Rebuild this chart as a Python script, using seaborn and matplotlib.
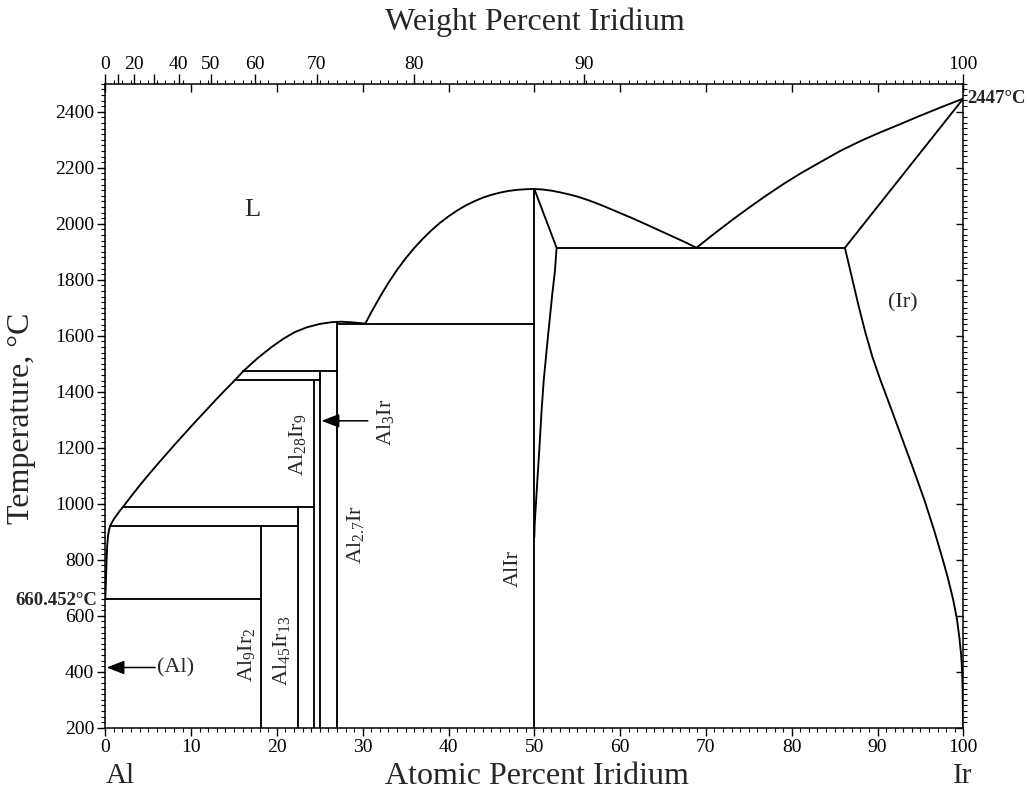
import numpy as np
import pandas as pd
import matplotlib
matplotlib.use("Agg")
import matplotlib.pyplot as plt
import seaborn as sns
from matplotlib.ticker import MultipleLocator, FixedLocator, NullFormatter

sns.set_theme(style="white")
plt.rcParams["font.family"] = ["Liberation Serif", "DejaVu Serif"]
plt.rcParams["mathtext.fontset"] = "custom"
plt.rcParams["mathtext.rm"] = "Liberation Serif"
plt.rcParams["mathtext.it"] = "Liberation Serif:italic"
plt.rcParams["mathtext.bf"] = "Liberation Serif:bold"

M_AL, M_IR = 26.9815, 192.217

# ---------------- data (atomic % Ir, temperature in °C) ----------------
liq_al_x = [0, 0.05, 0.1, 0.15, 0.22, 0.32, 0.45, 0.55, 0.75, 1.0, 1.3, 1.7,
            2.1, 3.0, 4.0, 5.0, 6.0, 7.0, 8.0, 9.0, 10.0, 11.0, 12.0, 13.0,
            14.0, 15.1, 16.1, 17.0, 17.8, 19.4, 20.8, 22.1, 23.5, 25.0, 26.3,
            27.5, 28.7, 30.3]
liq_al_t = [660, 700, 750, 800, 850, 885, 908, 919, 932, 945, 958, 975,
            990, 1026, 1065, 1102, 1138, 1173, 1208, 1242, 1276, 1309, 1342,
            1375, 1407, 1441, 1474, 1499, 1521, 1560, 1590, 1613, 1630, 1642,
            1648, 1650, 1648, 1643]

liq_alir_l_x = [30.3, 31.0, 32.0, 33.0, 34.0, 35.0, 36.0, 37.0, 38.0, 39.0,
                40.0, 41.0, 42.0, 43.0, 44.0, 45.0, 46.0, 47.0, 48.0, 49.0, 50.0]
liq_alir_l_t = [1643, 1684, 1738, 1789, 1835, 1876, 1913, 1946, 1976, 2003,
                2026, 2047, 2065, 2080, 2093, 2103, 2111, 2117, 2121, 2123, 2124]

liq_alir_r_x = [50.0, 51.0, 52.0, 53.0, 54.0, 55.0, 56.0, 57.0, 58.0, 59.0,
                60.0, 61.4, 63.0, 64.5, 66.0, 67.5, 68.9]
liq_alir_r_t = [2124, 2122, 2118, 2112, 2105, 2097, 2087, 2076, 2064, 2051,
                2038, 2020, 1998, 1977, 1956, 1935, 1914]

liq_ir_x = [68.9, 71.0, 73.0, 75.1, 77.0, 79.0, 81.0, 83.0, 85.6, 88.0, 90.0,
            92.6, 95.0, 97.5, 100.0]
liq_ir_t = [1914, 1965, 2012, 2059, 2100, 2141, 2179, 2214, 2259, 2295, 2322,
            2355, 2386, 2417, 2447]

sol_ir_x = [86.2, 100.0]
sol_ir_t = [1914, 2447]

alir_r_x = [50.0, 52.6, 52.4, 52.1, 51.6, 51.1, 50.85, 50.6, 50.35, 50.15,
            50.05, 50.0]
alir_r_t = [2124, 1914, 1830, 1750, 1600, 1441, 1333, 1202, 1080, 980, 930, 880]

solv_ir_x = [86.2, 87.0, 87.8, 88.6, 89.4, 90.3, 91.7, 93.2, 94.4, 95.5, 96.6,
             97.5, 98.2, 98.8, 99.25, 99.55, 99.75, 99.85, 99.93, 99.97]
solv_ir_t = [1914, 1810, 1706, 1610, 1525, 1445, 1330, 1205, 1105, 1010, 905,
             812, 735, 660, 590, 520, 460, 410, 330, 200]

# line compounds: composition and upper end of the vertical line
comp_x = [18.18, 22.41, 24.32, 25.0, 27.0, 50.0]
comp_top = [919, 990, 1441, 1474, 1648, 2124]

# invariant (horizontal) lines
iso_t = [660.452, 919, 990, 1441, 1474, 1643, 1914]
iso_x0 = [0.0, 0.55, 2.1, 15.1, 16.1, 27.0, 52.6]
iso_x1 = [18.18, 22.41, 24.32, 25.0, 27.0, 50.0, 86.2]

at_ticks = list(range(0, 101, 10))
t_ticks = list(range(200, 2401, 200))
wt_ticks = [0, 10, 20, 30, 40, 50, 60, 70, 80, 90, 100]
wt_labels = ["0", "", "20", "", "40", "50", "60", "70", "80", "90", "100"]

# ---------------- build segment table ----------------
rows = []
def add(name, xs, ts):
    for i, (x, t) in enumerate(zip(xs, ts)):
        rows.append({"seg": name, "order": i, "x": x, "T": t})

add("liq_al", liq_al_x, liq_al_t)
add("liq_alir_l", liq_alir_l_x, liq_alir_l_t)
add("liq_alir_r", liq_alir_r_x, liq_alir_r_t)
add("liq_ir", liq_ir_x, liq_ir_t)
add("sol_ir", sol_ir_x, sol_ir_t)
add("alir_r", alir_r_x, alir_r_t)
add("solv_ir", solv_ir_x, solv_ir_t)
for i, (cx, ct) in enumerate(zip(comp_x, comp_top)):
    add(f"comp{i}", [cx, cx], [200, ct])
for i, (t, a, b) in enumerate(zip(iso_t, iso_x0, iso_x1)):
    add(f"iso{i}", [a, b], [t, t])
df = pd.DataFrame(rows)

def wt2at(w):
    w = np.asarray(w, float)
    return 100 * (w / M_IR) / (w / M_IR + (100 - w) / M_AL)

# ---------------- figure ----------------
W, H = 1029, 796
fig = plt.figure(figsize=(W / 100, H / 100), dpi=100)
x0, x1, y0, y1 = 105.3, 963.3, 727.7, 83.7
ax = fig.add_axes([x0 / W, 1 - y0 / H, (x1 - x0) / W, (y0 - y1) / H])

sns.lineplot(data=df, x="x", y="T", units="seg", estimator=None, sort=False,
             color="black", lw=1.35, ax=ax, legend=False)

ax.set_xlim(0, 100)
ax.set_ylim(200, 2500)
ax.set_xlabel("")
ax.set_ylabel("")
for s in ax.spines.values():
    s.set_color("black")
    s.set_linewidth(1.1)

ax.xaxis.set_major_locator(FixedLocator(at_ticks))
ax.xaxis.set_minor_locator(MultipleLocator(1))
ax.yaxis.set_major_locator(FixedLocator(t_ticks))
ax.yaxis.set_minor_locator(MultipleLocator(20))
ax.tick_params(axis="both", which="both", direction="out", color="black",
               labelcolor="black", bottom=True, left=True, top=False, right=False)
ax.tick_params(axis="both", which="major", length=6, width=1.0, labelsize=14, pad=2)
ax.tick_params(axis="both", which="minor", length=3, width=0.8)

# top: weight percent scale
axt = ax.twiny()
axt.set_xlim(0, 100)
axt.xaxis.set_major_locator(FixedLocator(wt2at(wt_ticks)))
axt.set_xticklabels(wt_labels)
axt.xaxis.set_minor_locator(FixedLocator([]))
axt.tick_params(axis="x", which="major", direction="out", length=7, width=1.0,
                color="black", labelcolor="black", labelsize=14, pad=1, top=True)
for s in axt.spines.values():
    s.set_visible(False)

# top: atomic percent mirror ticks
axm = ax.twiny()
axm.set_xlim(0, 100)
axm.xaxis.set_major_locator(MultipleLocator(10))
axm.xaxis.set_minor_locator(MultipleLocator(1))
axm.xaxis.set_major_formatter(NullFormatter())
axm.tick_params(axis="x", which="major", direction="in", length=6, width=1.0,
                color="black", top=True, labeltop=False)
axm.tick_params(axis="x", which="minor", direction="out", length=3, width=0.8,
                color="black", top=True)
for s in axm.spines.values():
    s.set_visible(False)

# right: temperature mirror ticks
axr = ax.twinx()
axr.set_ylim(200, 2500)
axr.yaxis.set_major_locator(FixedLocator(t_ticks))
axr.yaxis.set_minor_locator(MultipleLocator(20))
axr.yaxis.set_major_formatter(NullFormatter())
axr.tick_params(axis="y", which="major", direction="in", length=5, width=1.0,
                color="black", right=True, labelright=False)
axr.tick_params(axis="y", which="minor", direction="out", length=3, width=0.8,
                color="black", right=True)
for s in axr.spines.values():
    s.set_visible(False)

# ---------------- labels inside the diagram ----------------
ax.text(17.1, 2048, "L", fontsize=19, ha="center", va="center")
ax.text(93.0, 1716, "(Ir)", fontsize=16, ha="center", va="center")
ax.text(47.6, 767, "AlIr", fontsize=16, rotation=90, ha="center", va="center")
ax.text(29.2, 890, r"Al$_{2.7}$Ir", fontsize=16, rotation=90, ha="center", va="center")
ax.text(32.6, 1290, r"Al$_{3}$Ir", fontsize=16, rotation=90, ha="center", va="center")
ax.text(22.4, 1210, r"Al$_{28}$Ir$_{9}$", fontsize=16, rotation=90, ha="center", va="center")
ax.text(16.5, 459, r"Al$_{9}$Ir$_{2}$", fontsize=16, rotation=90, ha="center", va="center")
ax.text(20.5, 473, r"Al$_{45}$Ir$_{13}$", fontsize=16, rotation=90, ha="center", va="center")
ax.text(6.0, 415, "(Al)", fontsize=16, ha="left", va="center")

arrow = dict(arrowstyle="-|>,head_length=0.9,head_width=0.35", color="black",
             lw=1.1, shrinkA=0, shrinkB=0)
ax.annotate("", xy=(0.15, 415), xytext=(5.8, 415), arrowprops=arrow)
ax.annotate("", xy=(25.2, 1296), xytext=(30.6, 1296), arrowprops=arrow)

ax.text(-0.9, 655, "660.452°C", fontsize=13.5, fontweight="bold", ha="right",
        va="center", clip_on=False)
ax.text(100.5, 2447, "2447°C", fontsize=13.5, fontweight="bold", ha="left",
        va="center", clip_on=False)

# ---------------- axis titles ----------------
fig.text(535 / W, 1 - 22 / H, "Weight Percent Iridium", fontsize=23,
         ha="center", va="center")
fig.text(537 / W, 1 - 776 / H, "Atomic Percent Iridium", fontsize=23,
         ha="center", va="center")
fig.text(120 / W, 1 - 776 / H, "Al", fontsize=21, ha="center", va="center")
fig.text(963 / W, 1 - 776 / H, "Ir", fontsize=21, ha="center", va="center")
fig.text(22 / W, 1 - 418 / H, "Temperature, °C", fontsize=23, rotation=90,
         ha="center", va="center")

fig.savefig("out.png", dpi=100, facecolor="white")
